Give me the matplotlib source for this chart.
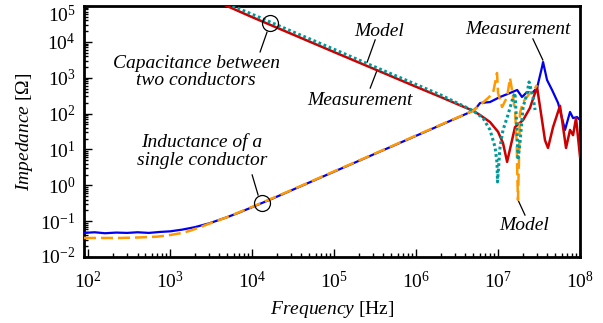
import matplotlib
matplotlib.use("Agg")
import matplotlib.pyplot as plt
from matplotlib.ticker import FixedLocator, LogLocator, LogFormatterMathtext, NullFormatter
from matplotlib.transforms import ScaledTranslation

plt.rcParams["font.family"] = ["Liberation Serif", "DejaVu Serif"]
plt.rcParams["mathtext.fontset"] = "custom"
plt.rcParams["mathtext.rm"] = "Liberation Serif"
plt.rcParams["mathtext.it"] = "Liberation Serif:italic"

# Inductance of a single conductor - measurement
f_ind_meas = [89, 120, 160, 220, 300, 400, 550, 750, 1000, 1400, 2000, 3000, 5000,
              7000, 1e4, 2e4, 5e4, 1e5, 2e5, 5e5, 1e6, 2e6, 3.5e6, 4.96e6, 5.5e6,
              6.03e6, 7.98e6, 1.057e7, 1.40e7, 1.71e7, 1.96e7, 2.26e7, 2.60e7,
              2.99e7, 3.44e7, 3.54e7, 3.96e7, 4.56e7, 5.40e7, 6.56e7, 7.55e7,
              8.22e7, 9.19e7, 1e8]
z_ind_meas = [0.047, 0.049, 0.046, 0.048, 0.047, 0.049, 0.047, 0.050, 0.052, 0.058,
              0.068, 0.087, 0.13, 0.175, 0.245, 0.48, 1.2, 2.4, 4.8, 12, 24, 48, 84,
              120, 150, 197, 210, 290, 375, 455, 290, 400, 375, 516, 1990, 2740,
              863, 455, 197, 35, 111, 75, 80, 66]

# Inductance of a single conductor - model
f_ind_model = [89, 150, 250, 400, 700, 1000, 1400, 1750, 2200, 3000, 5000, 1e4, 3e4,
               1e5, 3e5, 1e6, 3e6, 4.96e6, 6.03e6, 7.55e6, 8.69e6, 9.72e6, 1.0e7,
               1.12e7, 1.29e7, 1.40e7, 1.48e7, 1.61e7, 1.69e7, 1.72e7, 1.75e7,
               1.80e7, 1.85e7, 2.02e7, 2.45e7, 2.83e7, 2.99e7]
z_ind_model = [0.034, 0.034, 0.034, 0.035, 0.037, 0.041, 0.047, 0.054, 0.065, 0.085,
               0.13, 0.25, 0.73, 2.45, 7.3, 24.5, 73, 120, 173, 272, 375, 1355, 375,
               152, 290, 982, 455, 126, 15, 1.7, 0.39, 5.1, 104, 210, 375, 516, 627]

# Capacitance between two conductors - measurement
f_cap_meas = [4.5e3, 1e4, 3e4, 1e5, 3e5, 1e6, 2e6, 3.44e6, 4.96e6, 6.03e6, 7.98e6,
              1.0e7, 1.15e7, 1.29e7, 1.48e7, 1.61e7, 2.02e7, 2.45e7, 2.99e7, 3.44e7,
              3.74e7, 4.07e7, 4.69e7, 5.70e7, 6.75e7, 7.55e7, 8.22e7, 8.94e7, 1e8]
z_cap_meas = [1.1e5, 4.9e4, 1.68e4, 5.2e3, 1.8e3, 560, 290, 170, 120, 91, 58, 31, 15,
              4.5, 18, 42, 66, 143, 551, 65, 18, 11, 42, 165, 11, 35, 25, 75, 6.2]

# Capacitance between two conductors - model
f_cap_model = [5.0e3, 1e4, 3e4, 1e5, 3e5, 1e6, 2e6, 3e6, 4.2e6, 4.96e6, 6.56e6,
               7.98e6, 9.19e6, 9.72e6, 9.85e6, 1.057e7, 1.15e7, 1.32e7, 1.52e7,
               1.61e7, 1.71e7, 1.75e7, 1.85e7, 2.02e7, 2.26e7, 2.39e7, 2.67e7, 2.83e7]
z_cap_model = [1.15e5, 5.9e4, 2.0e4, 6.2e3, 2.1e3, 650, 330, 210, 145, 120, 75, 35,
               11.7, 4.2, 1.24, 11.7, 35, 91, 280, 375, 29, 5.1, 15, 152, 375, 760,
               290, 126]

x_limits = (89, 1e8)
y_limits = (1e-2, 1e5)
x_major = [1e2, 1e3, 1e4, 1e5, 1e6, 1e7, 1e8]
y_major = [1e-2, 1e-1, 1e0, 1e1, 1e2, 1e3, 1e4, 1e5]

fig = plt.figure(figsize=(6.03, 3.23), dpi=100)
ax = fig.add_axes([0.1393, 0.2043, 0.8226, 0.7771])

ax.plot(f_ind_meas, z_ind_meas, color="#0000EE", lw=1.6, zorder=3)
ax.plot(f_cap_meas, z_cap_meas, color="#CC0000", lw=1.8, zorder=3)
ax.plot(f_ind_model, z_ind_model, color="#FF9900", lw=1.8, dashes=(4.8, 2.0), zorder=4)
ax.plot(f_cap_model, z_cap_model, color="#009999", lw=2.2, dashes=(0.9, 0.9), zorder=4)

ax.set_xscale("log")
ax.set_yscale("log")
ax.set_xlim(*x_limits)
ax.set_ylim(*y_limits)

for axis, majors in ((ax.xaxis, x_major), (ax.yaxis, y_major)):
    axis.set_major_locator(FixedLocator(majors))
    axis.set_minor_locator(LogLocator(base=10, subs=range(2, 10), numticks=20))
    axis.set_major_formatter(LogFormatterMathtext())
    axis.set_minor_formatter(NullFormatter())

ax.tick_params(which="both", direction="in", top=False, right=False,
               width=1.0, labelsize=14)
ax.tick_params(axis="x", which="both", pad=10)
ax.tick_params(axis="y", which="both", pad=6)
ax.tick_params(which="major", length=6)
ax.tick_params(which="minor", length=3)
for s in ax.spines.values():
    s.set_linewidth(2.0)

# keep the end labels of the y axis inside the figure
yticks = ax.yaxis.get_major_ticks()
top_lab = yticks[-1].label1
top_lab.set_transform(top_lab.get_transform()
                      + ScaledTranslation(0, -0.07, fig.dpi_scale_trans))
bot_lab = yticks[0].label1
bot_lab.set_transform(bot_lab.get_transform()
                      + ScaledTranslation(0, 0.02, fig.dpi_scale_trans))

ax.set_xlabel(r"$\mathit{Frequency}$ [Hz]", fontsize=14, labelpad=5)
ax.set_ylabel(r"$\mathit{Impedance}$ [Ω]", fontsize=14, labelpad=4)

txt = dict(fontsize=14, style="italic", ha="center", va="center",
           transform=ax.transAxes, linespacing=1.05)
line = dict(color="black", lw=0.9, transform=ax.transAxes)

# Marker circles on the curves
ax.plot([1.66e4], [3.4e4], marker="o", ms=11.5, mfc="none", mec="black", mew=0.9, zorder=6)
ax.plot([1.32e4], [0.32], marker="o", ms=11.5, mfc="none", mec="black", mew=0.9, zorder=6)

ax.text(0.226, 0.737, "Capacitance between\ntwo conductors", **txt)
ax.plot([0.355, 0.369], [0.817, 0.896], **line)

ax.text(0.595, 0.900, "Model", **txt)
ax.plot([0.587, 0.571], [0.865, 0.777], **line)

ax.text(0.556, 0.625, "Measurement", **txt)
ax.plot([0.577, 0.591], [0.673, 0.745], **line)

ax.text(0.238, 0.422, "Inductance of a\nsingle conductor", **txt)
ax.plot([0.339, 0.351], [0.327, 0.247], **line)

ax.text(0.875, 0.908, "Measurement", **txt)
ax.plot([0.905, 0.925], [0.869, 0.785], **line)

ax.text(0.887, 0.124, "Model", **txt)
ax.plot([0.875, 0.889], [0.227, 0.167], **line)

fig.savefig("out.png", dpi=100)
